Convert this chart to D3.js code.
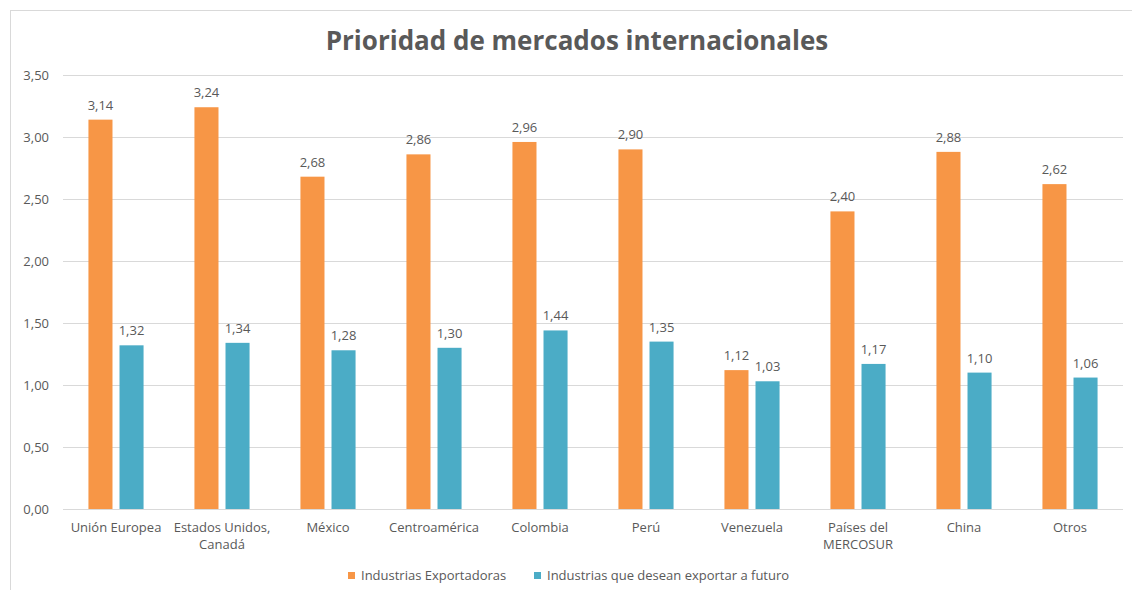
<!DOCTYPE html>
<html>
<head>
<meta charset="utf-8">
<script src="https://cdn.jsdelivr.net/npm/d3@7"></script>
<style>
  body { margin: 0; background: #fff; }
  svg text { font-family: "Open Sans", "Noto Sans", sans-serif; fill: #595959; }
</style>
</head>
<body>
<div id="chart"></div>
<script>
// categories and the two series
var categories = ["Unión Europea", "Estados Unidos, Canadá", "México", "Centroamérica",
  "Colombia", "Perú", "Venezuela", "Países del MERCOSUR", "China", "Otros"];
var categoryLines = [["Unión Europea"], ["Estados Unidos,", "Canadá"], ["México"], ["Centroamérica"],
  ["Colombia"], ["Perú"], ["Venezuela"], ["Países del", "MERCOSUR"], ["China"], ["Otros"]];
var seriesNames = ["Industrias Exportadoras", "Industrias que desean exportar a futuro"];
var exportadoras = [3.14, 3.24, 2.68, 2.86, 2.96, 2.90, 1.12, 2.40, 2.88, 2.62];
var futuro = [1.32, 1.34, 1.28, 1.30, 1.44, 1.35, 1.03, 1.17, 1.10, 1.06];
var yTicks = [0, 0.5, 1, 1.5, 2, 2.5, 3, 3.5];
var colors = ["#F79646", "#4BACC6"];

function draw() {
  var width = 1132, height = 590;
  var svg = d3.select("#chart").append("svg")
    .attr("width", width).attr("height", height);

  // chart border (only top/left visible in the window)
  svg.append("rect")
    .attr("x", 10.5).attr("y", 10.5)
    .attr("width", 1140).attr("height", 600)
    .attr("fill", "none").attr("stroke", "#D9D9D9");

  var pLeft = 63, pRight = 1123, pTop = 75, pBottom = 509;

  var y = d3.scaleLinear().domain([0, 3.5]).range([pBottom, pTop]);
  var x0 = d3.scaleBand().domain(categories).range([pLeft, pRight])
    .paddingInner(0.48).paddingOuter(0.24);
  var x1 = d3.scaleBand().domain([0, 1]).range([0, x0.bandwidth()]).paddingInner(0.226);

  var fmt = function (v) { return d3.format(".2f")(v).replace(".", ","); };

  // gridlines
  svg.append("g").selectAll("line")
    .data(yTicks)
    .enter().append("line")
      .attr("x1", pLeft).attr("x2", pRight)
      .attr("y1", function (d) { return Math.round(y(d)) + 0.5; })
      .attr("y2", function (d) { return Math.round(y(d)) + 0.5; })
      .attr("stroke", "#D9D9D9");

  // y labels
  svg.append("g").selectAll("text")
    .data(yTicks)
    .enter().append("text")
      .attr("x", 49)
      .attr("y", function (d) { return y(d) + 4.5; })
      .attr("text-anchor", "end")
      .style("font-size", "13px")
      .text(fmt);

  var rows = categories.map(function (c, i) {
    return { cat: c, vals: [exportadoras[i], futuro[i]] };
  });

  var groups = svg.append("g").selectAll("g")
    .data(rows)
    .enter().append("g")
      .attr("transform", function (d) { return "translate(" + x0(d.cat) + ",0)"; });

  groups.selectAll("rect")
    .data(function (d) { return d.vals; })
    .enter().append("rect")
      .attr("x", function (d, i) { return x1(i); })
      .attr("width", x1.bandwidth())
      .attr("y", function (d) { return y(d); })
      .attr("height", function (d) { return y(0) - y(d); })
      .attr("fill", function (d, i) { return colors[i]; });

  groups.selectAll("text.val")
    .data(function (d) { return d.vals; })
    .enter().append("text")
      .attr("class", "val")
      .attr("x", function (d, i) { return x1(i) + x1.bandwidth() / 2; })
      .attr("y", function (d) { return y(d) - 10; })
      .attr("text-anchor", "middle")
      .style("font-size", "13px")
      .text(fmt);

  // x labels
  var xl = svg.append("g").selectAll("text")
    .data(categories)
    .enter().append("text")
      .attr("x", function (d) { return x0(d) + x0.bandwidth() / 2; })
      .attr("y", 532)
      .attr("text-anchor", "middle")
      .style("font-size", "13px");
  xl.selectAll("tspan")
    .data(function (d, i) { return categoryLines[i]; })
    .enter().append("tspan")
      .attr("x", function () { return d3.select(this.parentNode).attr("x"); })
      .attr("dy", function (d, i) { return i === 0 ? 0 : 17; })
      .text(function (d) { return d; });

  // title
  svg.append("text")
    .attr("x", 577).attr("y", 50)
    .attr("text-anchor", "middle")
    .style("font-size", "26px")
    .style("font-weight", "bold")
    .text("Prioridad de mercados internacionales");

  // legend
  var legendX = [348, 534];
  var leg = svg.append("g").selectAll("g")
    .data(seriesNames)
    .enter().append("g")
      .attr("transform", function (d, i) { return "translate(" + legendX[i] + ",572)"; });
  leg.append("rect")
    .attr("width", 7).attr("height", 7)
    .attr("fill", function (d, i) { return colors[i]; });
  leg.append("text")
    .attr("x", 13).attr("y", 8)
    .style("font-size", "13px")
    .text(function (d) { return d; });
}

draw();
</script>
</body>
</html>
